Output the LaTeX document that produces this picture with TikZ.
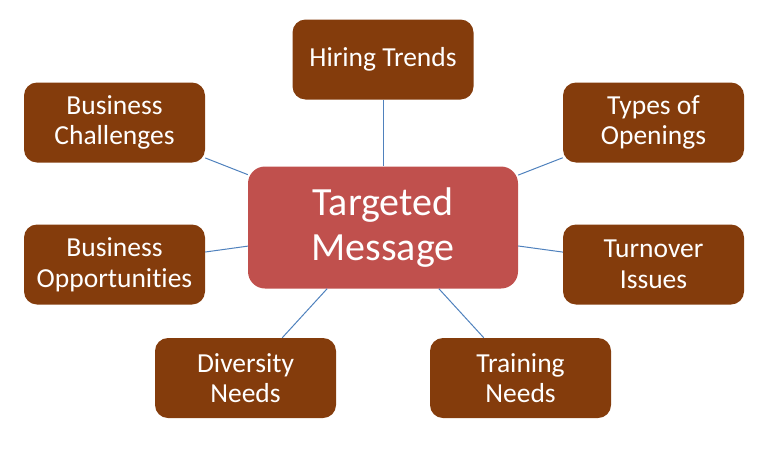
\documentclass[tikz,border=0pt]{standalone}
\usepackage{fontspec}
\setmainfont{Carlito}[Ligatures={NoCommon}]
\definecolor{brownbox}{HTML}{843C0C}
\definecolor{redbox}{HTML}{C0504D}
\definecolor{linkblue}{HTML}{4F81BD}
\begin{document}
\begin{tikzpicture}[x=1pt,y=-1pt,
  outer/.style={fill=brownbox, text=white, rounded corners=13pt, inner sep=0pt,
    minimum width=181pt, minimum height=80pt, align=center,
    font=\fontsize{27.5}{30.5}\selectfont},
  hub/.style={fill=redbox, text=white, rounded corners=17pt, inner sep=0pt,
    minimum width=270pt, minimum height=122pt, align=center,
    font=\fontsize{40}{45}\selectfont},
  link/.style={draw=linkblue, line width=1pt}]
\useasboundingbox (0,0) rectangle (773,450);
\node[hub] (c) at (383,227.5) {Targeted\\Message};
\node[outer] (ht) at (383,59.5) {Hiring Trends};
\node[outer] (bc) at (114.5,122.5) {Business\\Challenges};
\node[outer] (to) at (653.5,122.5) {Types of\\Openings};
\node[outer] (bo) at (114.5,264.5) {Business\\Opportunities};
\node[outer] (ti) at (653.5,264.5) {Turnover\\Issues};
\node[outer] (dn) at (245.5,378) {Diversity\\Needs};
\node[outer] (tn) at (520.5,378) {Training\\Needs};
\foreach \n in {ht,bc,to,bo,ti,dn,tn} \draw[link] (\n) -- (c);
\end{tikzpicture}
\end{document}
